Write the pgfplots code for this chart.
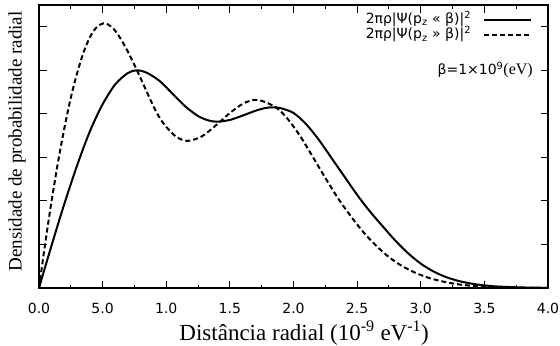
\documentclass[border=0pt]{standalone}
\usepackage{fontspec}
\setmainfont{Liberation Serif}
\newfontfamily\sansf{DejaVu Sans}
\usepackage{pgfplots}
\pgfplotsset{compat=1.18}
\begin{document}
\begin{tikzpicture}
\begin{axis}[name=ax, at={(0,0)}, anchor=south west,
  scale only axis, width=509pt, height=283pt,
  xmin=0, xmax=4, ymin=0, ymax=6.5,
  xtick={0,0.5,1,1.5,2,2.5,3,3.5,4},
  xticklabels={0.0,5.0,1.0,1.5,2.0,2.5,3.0,3.5,4.0},
  minor x tick num=1,
  ytick={1,2,3,4,5,6}, yticklabels={},
  tick align=inside, tick pos=both, xticklabel pos=lower,
  major tick length=7.5pt, minor tick length=3.5pt,
  every tick/.style={black, line width=1pt},
  axis line style={line width=1.2pt},
  xticklabel style={font=\sansf\fontsize{14}{16}\selectfont, anchor=base, yshift=-25pt},
  xlabel={Distância radial (10\textsuperscript{-9} eV\textsuperscript{-1})},
  ylabel={Densidade de probabilidade radial},
  xlabel style={at={([yshift=-52.7pt]axis description cs:0.521,0)}, anchor=base, font=\fontsize{23}{26}\selectfont},
  ylabel style={at={([xshift=-17.3pt]axis description cs:0,0.518)}, anchor=base, font=\fontsize{19}{22}\selectfont},
  legend style={at={(rel axis cs:0.9686,0.972)}, anchor=north east, draw=none, fill=none,
    inner sep=0pt, outer sep=0pt, row sep=1.5pt, column sep=12pt,
    font=\sansf\fontsize{14}{16}\selectfont,
    nodes={inner sep=0pt, text height=10.5pt, text depth=3.5pt}},
  legend cell align=right, legend plot pos=right,
  legend image code/.code={\draw[#1] (0pt,0pt) -- (47pt,0pt);},
]
\addplot[black, line width=2pt, smooth] table {
0 0
0.1 0.99
0.2 1.94
0.3 2.82
0.4 3.6
0.5 4.22
0.6 4.68
0.7 4.94
0.77 5.0
0.85 4.94
0.95 4.75
1.05 4.46
1.15 4.17
1.25 3.95
1.33 3.85
1.4 3.82
1.5 3.86
1.6 3.96
1.7 4.07
1.78 4.135
1.84 4.15
1.9 4.13
2.0 4.02
2.1 3.76
2.2 3.4
2.3 2.98
2.4 2.56
2.5 2.14
2.6 1.76
2.7 1.42
2.8 1.09
2.9 0.8
3.0 0.56
3.1 0.38
3.2 0.25
3.3 0.16
3.4 0.1
3.5 0.06
3.6 0.035
3.8 0.012
4.0 0.004
};
\addlegendentry{2πρ|Ψ(p\textsubscript{z} « β)|\textsuperscript{2}}
\addplot[black, line width=2pt, dash pattern=on 5pt off 3pt, smooth] table {
0 0
0.05 1.05
0.1 2.02
0.15 2.9
0.2 3.68
0.25 4.37
0.3 4.94
0.35 5.41
0.4 5.76
0.45 5.98
0.51 6.08
0.57 6.0
0.63 5.78
0.7 5.42
0.77 5.0
0.84 4.55
0.9 4.17
0.95 3.9
1.0 3.7
1.08 3.47
1.16 3.38
1.24 3.43
1.3 3.52
1.4 3.76
1.5 4.02
1.6 4.23
1.66 4.3
1.71 4.32
1.78 4.27
1.87 4.13
1.95 3.9
2.05 3.5
2.15 3.02
2.25 2.53
2.35 2.06
2.45 1.65
2.55 1.28
2.65 0.97
2.75 0.71
2.85 0.51
2.95 0.36
3.05 0.245
3.15 0.165
3.25 0.105
3.35 0.065
3.5 0.03
3.7 0.01
4.0 0.002
};
\addlegendentry{2πρ|Ψ(p\textsubscript{z} » β)|\textsuperscript{2}}
\node[anchor=east, inner sep=0pt, font=\sansf\fontsize{14}{16}\selectfont] at (rel axis cs:0.9705,0.770) {β=1×10\textsuperscript{9}{\rmfamily\fontsize{16}{18}\selectfont(eV)}};
\end{axis}
\pgfresetboundingbox
\path ([xshift=-39pt,yshift=-57pt]ax.south west) rectangle ([xshift=12pt,yshift=5pt]ax.north east);
\end{tikzpicture}
\end{document}
